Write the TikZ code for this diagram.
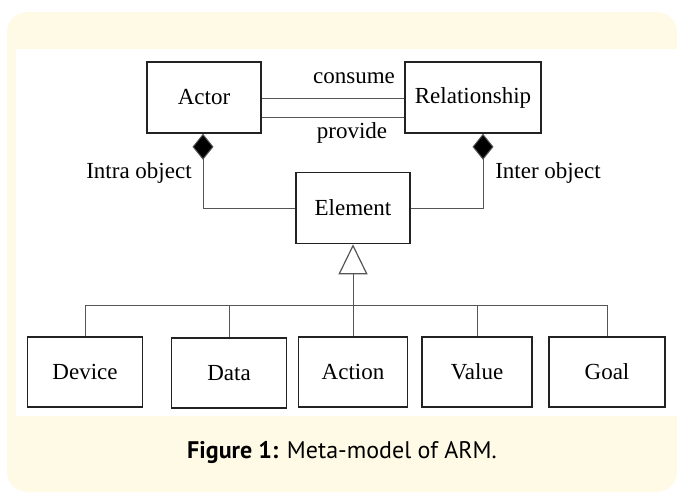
\documentclass[tikz,border=0pt]{standalone}
\usepackage{fontspec}
\setmainfont{Liberation Serif}
\newfontfamily\capfont{PT Sans}
\usetikzlibrary{arrows.meta}
\definecolor{cream}{HTML}{FFFAE6}
\definecolor{boxline}{HTML}{222222}
\definecolor{connline}{HTML}{555555}
\begin{document}
\begin{tikzpicture}[x=1pt,y=-1pt,
  box/.style={draw=boxline,line width=1.6pt,fill=white,inner sep=0pt,
    font=\fontsize{23}{26}\selectfont},
  conn/.style={draw=connline,line width=1pt},
  lbl/.style={inner sep=0pt,font=\fontsize{23}{26}\selectfont}]
\useasboundingbox (0,0) rectangle (677,493);
\fill[cream,rounded corners=20pt] (7,12) rectangle (677,492);
\fill[white] (16,49) rectangle (677,416);
% top boxes
\node[box,minimum width=114pt,minimum height=71pt] (actor) at (204,97.5) {Actor};
\node[box,minimum width=136pt,minimum height=71pt] (rel) at (473,97.5) {Relationship};
\node[box,minimum width=114pt,minimum height=71pt] (element) at (353,208) {Element};
% bottom boxes
\node[box,minimum width=115pt,minimum height=70pt] (device) at (85,372) {Device};
\node[box,minimum width=115pt,minimum height=70pt] (data) at (229,373) {Data};
\node[box,minimum width=109pt,minimum height=70pt] (action) at (353,372) {Action};
\node[box,minimum width=110pt,minimum height=70pt] (value) at (477,372) {Value};
\node[box,minimum width=116pt,minimum height=70pt] (goal) at (607,372) {Goal};
% actor-relationship lines
\draw[conn] (actor.east |- 0,98) -- (rel.west |- 0,98);
\draw[conn] (actor.east |- 0,117) -- (rel.west |- 0,117);
\node[lbl] (consume) at (354,78) {consume};
\node[lbl] (provide) at (352,133) {provide};
% compositions
\coordinate (adia) at ([xshift=-1pt]actor.south);
\coordinate (rdia) at ([xshift=10pt]rel.south);
\draw[conn,-{Diamond[length=26pt,width=21pt,fill=black]}] (element.west) -| (adia);
\draw[conn,-{Diamond[length=26pt,width=21pt,fill=black]}] (element.east) -| (rdia);
\node[lbl] (intra) at (139,173) {Intra object};
\node[lbl] (inter) at (548,173) {Inter object};
% generalization
\coordinate (bus) at (353,305);
\draw[conn] (device.north) |- (goal.north |- bus) -- (goal.north);
\draw[conn] (data.north) -- (data.north |- bus);
\draw[conn] (value.north) -- (value.north |- bus);
\draw[conn,-{Triangle[open,length=30pt,width=29pt,line width=1.2pt]}] (action.north) -- (element.south);
% caption
\node[inner sep=0pt,font=\capfont\fontsize{24}{27}\selectfont] (caption) at (342,452) {\textbf{Figure 1:} Meta-model of ARM.};
\end{tikzpicture}
\end{document}
